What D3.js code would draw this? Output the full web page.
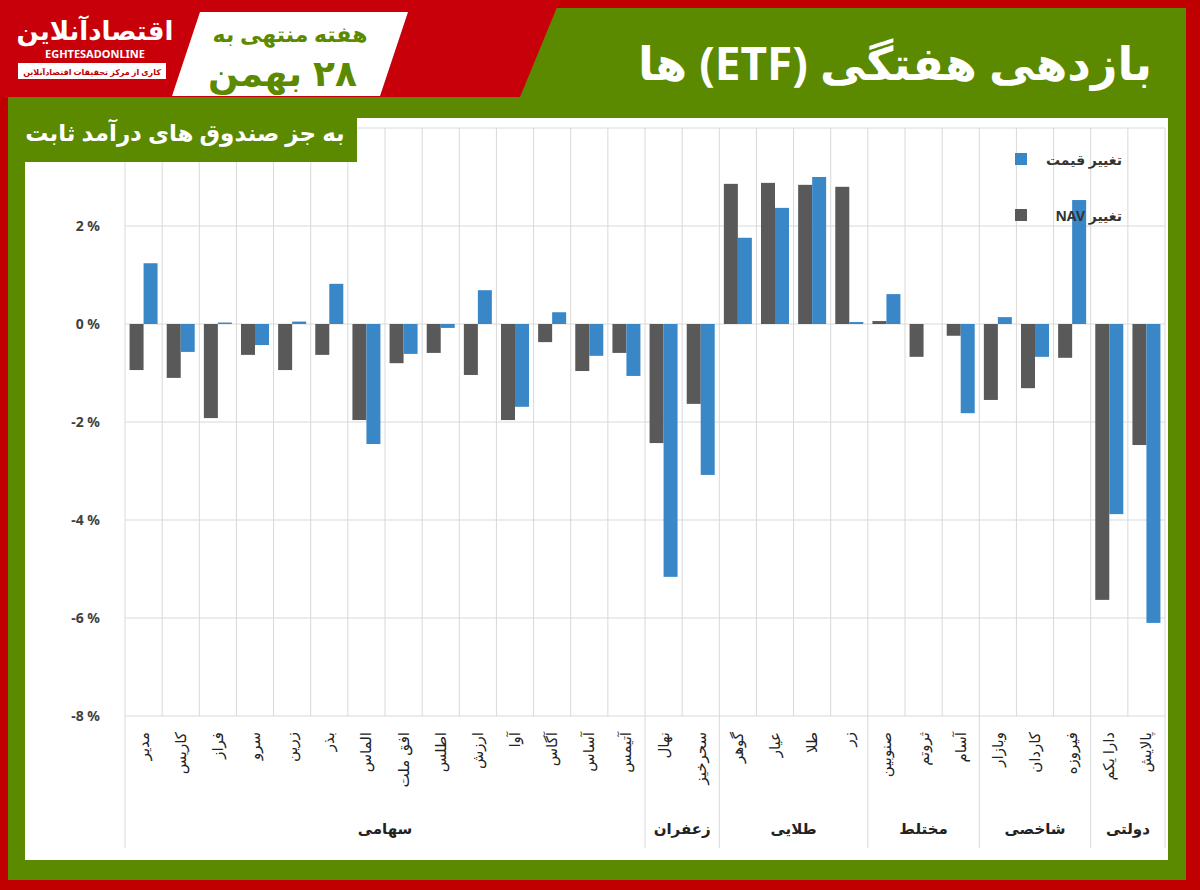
<!DOCTYPE html>
<html><head><meta charset="utf-8">
<script src="https://cdn.jsdelivr.net/npm/d3@7"></script>
<style>body{margin:0;background:#c00000;} svg{display:block;font-family:"Noto Sans","DejaVu Sans",sans-serif;}</style>
</head><body>
<svg id="chart" width="1200" height="890"></svg>
<script>
// fund names, left to right
var funds = ["مدیر","کاریس","فراز","سرو","زرین","بذر","الماس","افق ملت","اطلس","ارزش","آوا","آگاس","آساس","آتیمس",
  "نهال","سحرخیز","گوهر","عیار","طلا","زر","صنوبین","ثروتم","آسام","وبازار","کاردان","فیروزه","دارا یکم","پالایش"];
var groups = [["سهامی",14],["زعفران",2],["طلایی",4],["مختلط",3],["شاخصی",3],["دولتی",2]];
var navChange = [-0.94,-1.1,-1.92,-0.63,-0.94,-0.63,-1.96,-0.8,-0.59,-1.04,-1.96,-0.37,-0.96,-0.59,
  -2.43,-1.63,2.86,2.88,2.84,2.8,0.06,-0.67,-0.24,-1.55,-1.31,-0.69,-5.63,-2.47];
var priceChange = [1.24,-0.57,0.03,-0.43,0.05,0.82,-2.45,-0.61,-0.08,0.69,-1.69,0.24,-0.65,-1.06,
  -5.16,-3.08,1.76,2.37,3.0,0.04,0.61,0,-1.82,0.14,-0.67,2.53,-3.88,-6.1];
var yTicks = [2,0,-2,-4,-6,-8];

var svg = d3.select("#chart");
var green = "#5b8a00";

function faText(x, y, size, fill, txt, anchor) {
  return svg.append("text").attr("x",x).attr("y",y).attr("direction","rtl")
    .attr("text-anchor",anchor || "middle").attr("fill",fill)
    .attr("font-size",size).attr("font-weight","bold").text(txt);
}

// frame
svg.append("rect").attr("x",8).attr("y",8).attr("width",1178).attr("height",872).attr("fill",green);
svg.append("path").attr("d","M0,0H560L520,97H0Z").attr("fill","#c8000a");
svg.append("path").attr("d","M200,12H408L380,96H172Z").attr("fill","#fff");
faText(290,42,22,green,"هفته منتهی به");
// two parts so the number sits on the right
faText(335,86,36,green,"۲۸");
faText(255,86,36,green,"بهمن");
// logo
faText(95,40,26,"#fff","اقتصادآنلاین");
svg.append("text").attr("x",95).attr("y",58).attr("text-anchor","middle").attr("fill","#fff")
  .attr("font-size",11).attr("font-weight","bold").text("EGHTESADONLINE");
svg.append("rect").attr("x",18).attr("y",63).attr("width",148).attr("height",16).attr("fill","#fff");
faText(92,75,8,"#c00000","کاری از مرکز تحقیقات اقتصادآنلاین");
faText(1152,80,46,"#fff","بازدهی هفتگی (ETF) ها","start");

// panel
svg.append("rect").attr("x",25).attr("y",118).attr("width",1143).attr("height",742).attr("fill","#fff");

var x = d3.scaleBand().domain(d3.range(funds.length)).range([125,1165]);
var y = d3.scaleLinear().domain([-8,4]).range([716,128]);
var g = svg.append("g");

// grid
g.selectAll(".vg").data(d3.range(funds.length+1)).enter().append("line")
  .attr("x1",function(i){return 125+i*x.bandwidth();}).attr("x2",function(i){return 125+i*x.bandwidth();})
  .attr("y1",y(4)).attr("y2",716).attr("stroke","#d9d9d9");
g.selectAll(".hg").data(yTicks.concat([4])).enter().append("line")
  .attr("x1",125).attr("x2",1165).attr("y1",function(d){return y(d);}).attr("y2",function(d){return y(d);})
  .attr("stroke","#d9d9d9");
g.selectAll(".yl").data(yTicks).enter().append("text")
  .attr("x",100).attr("y",function(d){return y(d)+5;}).attr("text-anchor","end")
  .attr("font-size",14).attr("font-weight","bold").attr("fill","#404040")
  .text(function(d){return d + " %";});

var bw = 14;
g.selectAll(".nav").data(navChange).enter().append("rect")
  .attr("x",function(d,i){return x(i)+x.bandwidth()/2-bw;}).attr("width",bw)
  .attr("y",function(d){return y(Math.max(0,d));}).attr("height",function(d){return Math.abs(y(d)-y(0));})
  .attr("fill","#595959");
g.selectAll(".pr").data(priceChange).enter().append("rect")
  .attr("x",function(d,i){return x(i)+x.bandwidth()/2;}).attr("width",bw)
  .attr("y",function(d){return y(Math.max(0,d));}).attr("height",function(d){return Math.abs(y(d)-y(0));})
  .attr("fill","#3a87c8");

// category labels
g.selectAll(".cl").data(funds).enter().append("text")
  .attr("transform",function(d,i){return "translate("+(x(i)+x.bandwidth()/2+5)+",732) rotate(-90)";})
  .attr("text-anchor","end").attr("font-size",15).attr("fill","#222").text(function(d){return d;});

// group axis
var start = 0;
g.append("line").attr("x1",125).attr("x2",125).attr("y1",716).attr("y2",848).attr("stroke","#d9d9d9");
groups.forEach(function(gr){
  var x0 = 125+start*x.bandwidth(), x1 = 125+(start+gr[1])*x.bandwidth();
  g.append("line").attr("x1",x1).attr("x2",x1).attr("y1",716).attr("y2",848).attr("stroke","#d9d9d9");
  g.append("text").attr("x",(x0+x1)/2).attr("y",834).attr("text-anchor","middle")
    .attr("font-size",15).attr("font-weight","bold").attr("fill","#222").text(gr[0]);
  start += gr[1];
});

// legend
var leg = [["تغییر قیمت","#3a87c8",160],["تغییر NAV","#595959",216]];
leg.forEach(function(l){
  svg.append("rect").attr("x",1015).attr("y",l[2]-7).attr("width",12).attr("height",12).attr("fill",l[1]);
  faText(1122,l[2]+5,14,"#333",l[0],"start");
});

// subtitle box over the panel corner
svg.append("rect").attr("x",10).attr("y",100).attr("width",347).attr("height",62).attr("fill",green);
faText(185,141,23,"#fff","به جز صندوق های درآمد ثابت");
</script>
</body></html>
